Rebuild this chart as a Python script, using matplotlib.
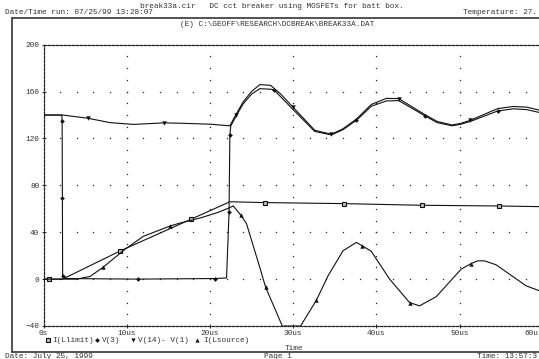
import matplotlib
matplotlib.use("Agg")
import matplotlib.pyplot as plt
import numpy as np
from matplotlib.lines import Line2D
from matplotlib.transforms import ScaledTranslation

plt.rcParams["font.family"] = ["Liberation Mono", "DejaVu Sans Mono"]

W, H = 539, 359
FS = 5.6
TXT = "#333333"

# I(Llimit)
ll_t = [0, 0.7, 2.3, 9.2, 17.7, 22.4, 26.6, 36.1, 45.5, 54.7, 60]
ll_v = [0, 0, 0, 24, 51, 66, 65.3, 64.4, 63, 62.4, 61.8]
ll_marks = [1, 3, 4, 6, 7, 8, 9]

# V(3)
v3_t = [0, 2.2, 2.24, 2.27, 2.3, 2.6, 11.3, 20.6, 22.0, 22.3, 22.4, 22.5,
        23.1, 24.0, 25.0, 26.0, 27.3, 27.7, 29.95, 32.6, 34.6, 36.0, 37.6, 38.0,
        39.4, 41.2, 42.7, 45.8, 47.3, 49.1, 50.1, 51.3, 54.6, 56.5, 58.1, 60]
v3_v = [140, 140, 134.6, 69, 3, 0.5, 0, 0.5, 1, 57, 123, 130.5,
        138.5, 149.5, 157.8, 162.5, 162, 161.5, 145, 126, 123, 127.5, 135.5, 138,
        147.5, 152, 152.3, 139.5, 133.5, 130.8, 132, 134.5, 143.5, 145.3, 144.6, 141.5]
v3_marks = [2, 3, 4, 6, 7, 9, 10, 17, 22, 27, 32]

# V(14)- V(1)
vd_t = [0, 2.3, 5.3, 8.0, 10.8, 14.5, 16.4, 20.0, 22.4, 23.1, 24.0, 25.0,
        26.0, 27.3, 28.5, 29.95, 32.6, 34.6, 36.0, 37.6, 39.4, 41.2, 42.7, 45.8,
        47.3, 49.1, 50.1, 51.3, 54.6, 56.5, 58.1, 60]
vd_v = [140, 140, 137.3, 133.5, 132, 133.3, 133, 132.2, 130.8, 140, 151.3, 160,
        166, 165.3, 158, 147, 127, 123.6, 128.3, 136.5, 149, 154.2, 154, 140.5,
        134.6, 131.5, 132.8, 135.5, 145.5, 147.3, 146.7, 143.5]
vd_marks = [2, 5, 9, 15, 17, 22, 27]

# I(Lsource)
ls_t = [0, 4.0, 5.6, 7.2, 9.8, 12.0, 14.0, 15.2, 16.2, 19.0, 21.0, 22.4,
        22.8, 23.7, 24.4, 26.0, 26.7, 27.4, 28.7, 30.9, 32.8, 34.2, 36.0, 37.6,
        38.3, 39.4, 41.6, 44.0, 45.2, 47.2, 50.2, 51.4, 52.2, 53.0, 54.4, 58.0, 60]
ls_v = [0, 0, 2.3, 10.3, 25.5, 36.5, 42, 45.3, 47.4, 52.5, 57, 61,
        62.5, 54.7, 47.3, 9.9, -7, -18.5, -40, -40, -18, 2.8, 24.2, 31.3,
        28.5, 23.7, 0, -20, -22.8, -15, 8.5, 13.3, 15.6, 15.6, 12.2, -5.7, -11]
ls_marks = [3, 7, 13, 16, 20, 24, 27, 31]

x_ticks = [0, 10, 20, 30, 40, 50, 60]
x_labels = ["0s", "10us", "20us", "30us", "40us", "50us", "60u"]
y_ticks = [-40, 0, 40, 80, 120, 160, 200]


def px(x, y):
    return x / W, 1 - y / H


fig = plt.figure(figsize=(W / 100, H / 100), dpi=100)
fig.patch.set_facecolor("white")
ax = fig.add_axes([43.5 / W, 1 - 326 / H, 499.2 / W, 281.3 / H])
ax.set_xlim(0, 60)
ax.set_ylim(-40, 200)

# dotted grid (dots at minor steps along the major lines)
for y in y_ticks[1:-1]:
    gx = np.arange(2, 61, 2)
    ax.plot(gx, np.full(len(gx), y), ls="none", marker="s", ms=0.9, mew=0, color="#222222", zorder=1)
for x in x_ticks[1:-1]:
    gy = np.arange(-30, 200, 10)
    ax.plot(np.full(len(gy), x), gy, ls="none", marker="s", ms=0.9, mew=0, color="#222222", zorder=1)

line_kw = dict(color="#111111", lw=0.8, zorder=3)
ax.plot(ll_t, ll_v, marker="s", ms=3.0, mew=0.8, mfc="#bbbbbb", mec="#111111", markevery=ll_marks, **line_kw)
ax.plot(v3_t, v3_v, marker="D", ms=2.4, mew=0, mfc="#111111", markevery=v3_marks, **line_kw)
ax.plot(vd_t, vd_v, marker="v", ms=3.2, mew=0, mfc="#111111", markevery=vd_marks, **line_kw)
ax.plot(ls_t, ls_v, marker="^", ms=3.2, mew=0, mfc="#111111", markevery=ls_marks, **line_kw)

for side in ("left", "top", "bottom"):
    ax.spines[side].set_linestyle((0, (2, 1.2)))
    ax.spines[side].set_linewidth(0.9)
    ax.spines[side].set_color("#222222")
ax.spines["right"].set_visible(False)

ax.set_xticks(x_ticks)
ax.set_xticklabels(x_labels)
ax.set_yticks(y_ticks)
ax.tick_params(direction="inout", length=3, width=0.7, color="#222222",
               labelsize=FS, labelcolor=TXT, pad=1.5)
# the last label sits at the figure edge in the original, keep it inside
last = ax.get_xticklabels()[-1]
last.set_horizontalalignment("right")
last.set_transform(last.get_transform() + ScaledTranslation(-0.045, 0, fig.dpi_scale_trans))

# header / footer texts
fig.text(*px(272, 6), "break33a.cir   DC cct breaker using MOSFETs for batt box.",
         ha="center", va="center", fontsize=FS, color=TXT)
fig.text(*px(5, 13), "Date/Time run: 07/25/99 13:28:07", ha="left", va="center", fontsize=FS, color=TXT)
fig.text(*px(537, 13), "Temperature: 27.", ha="right", va="center", fontsize=FS, color=TXT)
fig.text(*px(277, 24.5), "(E) C:\\GEOFF\\RESEARCH\\DCBREAK\\BREAK33A.DAT",
         ha="center", va="center", fontsize=FS, color=TXT)
fig.text(*px(294, 349), "Time", ha="center", va="center", fontsize=FS, color=TXT)
fig.text(*px(5, 357), "Date: July 25, 1999", ha="left", va="center", fontsize=FS, color=TXT)
fig.text(*px(278, 357), "Page 1", ha="center", va="center", fontsize=FS, color=TXT)
fig.text(*px(537, 357), "Time: 13:57:3", ha="right", va="center", fontsize=FS, color=TXT)

# frame lines
fig.add_artist(Line2D([12 / W, 1], [1 - 17.5 / H] * 2, color="#444444", lw=1.3))
fig.add_artist(Line2D([12 / W] * 2, [1 - 17.5 / H, 1 - 352 / H], color="#444444", lw=1.3))
fig.add_artist(Line2D([12 / W, 1], [1 - 352 / H] * 2, color="#444444", lw=1.3))

# legend row
legend_items = [
    ("s", "I(Llimit)", 47.5, 52),
    ("D", "V(3)", 97, 102),
    ("v", "V(14)- V(1)", 133, 138),
    ("^", "I(Lsource)", 197, 203),
]
for mk, label, mx, tx in legend_items:
    fx, fy = px(mx, 340)
    fig.add_artist(Line2D([fx], [fy], marker=mk, ms=3.0 if mk != "D" else 2.4, mew=0.8 if mk == "s" else 0,
                          mfc="#bbbbbb" if mk == "s" else "#111111", mec="#111111", ls="none"))
    fig.text(*px(tx, 340), label, ha="left", va="center", fontsize=FS, color=TXT)

fig.savefig("out.png", dpi=100, facecolor="white")
